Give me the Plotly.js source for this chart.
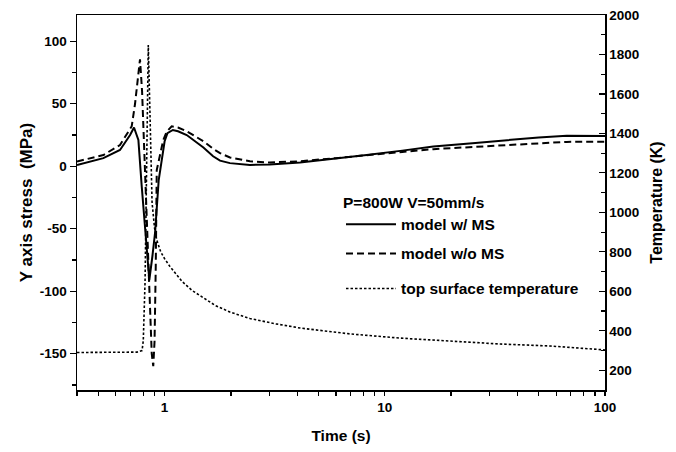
<!DOCTYPE html>
<html>
<head>
<meta charset="utf-8">
<script src="https://cdn.plot.ly/plotly-3.0.1.min.js"></script>
<style>html,body{margin:0;padding:0;background:#fff}#chart{width:676px;height:452px}</style>
</head>
<body>
<div id="chart"></div>
<script>
// model w/ MS (left axis, MPa)
const timeMS = [0.4, 0.45, 0.527, 0.627, 0.697, 0.726, 0.76, 0.787, 0.82, 0.852, 0.88, 0.905, 0.94, 1.0, 1.03, 1.09, 1.15, 1.26, 1.5, 1.66, 1.785, 1.98, 2.44, 3, 4.12, 6, 8.27, 12, 16.6, 25, 33.4, 50, 67, 100];
const stressMS = [1, 3.5, 6.5, 13, 25, 31, 21, -16, -56, -91, -72, -53, -11, 20, 26.5, 29, 28, 25, 15, 8, 4.5, 2.5, 1.1, 1.5, 3, 6, 9, 12.5, 15.8, 18.5, 20.5, 23, 24.5, 24.3];
// model w/o MS (left axis, MPa)
const timeNoMS = [0.4, 0.45, 0.527, 0.627, 0.709, 0.734, 0.76, 0.773, 0.79, 0.815, 0.84, 0.874, 0.888, 0.9, 0.911, 0.921, 0.986, 1.022, 1.077, 1.15, 1.26, 1.5, 1.66, 1.785, 1.98, 2.44, 3, 4.12, 6, 8.27, 12, 16.6, 25, 33.4, 50, 67, 100];
const stressNoMS = [3.8, 6, 9, 17, 32, 50, 77, 85.6, 60, -3, -75, -150, -160, -140, -83, -3, 21, 27.7, 32, 31, 28, 20, 14, 10.5, 7, 4, 3, 4, 6.5, 9, 11.5, 13.7, 15.5, 17, 18.5, 19.5, 19.7];
// top surface temperature (right axis, K)
const timeTemp = [0.4, 0.6, 0.75, 0.79, 0.8, 0.815, 0.83, 0.843, 0.858, 0.877, 0.9, 0.921, 0.96, 1.0, 1.058, 1.12, 1.2, 1.33, 1.5, 1.7, 1.98, 2.44, 3.2, 4.12, 6.97, 11.7, 19.8, 33.4, 56.3, 100];
const tempK = [290, 290, 292, 300, 350, 650, 1300, 1848, 1500, 1050, 920, 860, 800, 765, 725, 690, 650, 605, 565, 528, 495, 462, 435, 414, 384, 363, 348, 333, 323, 303];

const xTickVals = [0.4,0.5,0.6,0.7,0.8,0.9,1,2,3,4,5,6,7,8,9,10,20,30,40,50,60,70,80,90,100];
const xTickText = xTickVals.map(v => (v===1||v===10||v===100) ? String(v) : '');
const yTickVals = [-150, -100, -50, 0, 50, 100];
const yTickText = ['-150', '-100', '-50', '0', '50', '100'];

const FONT = 'Liberation Sans, Arial, Helvetica, sans-serif';

const traces = [
  {x: timeMS, y: stressMS, type: 'scatter', mode: 'lines', name: 'model w/ MS',
   line: {color: '#000', width: 2}, legend: 'legend', legendgroup: 'a'},
  {x: timeNoMS, y: stressNoMS, type: 'scatter', mode: 'lines', name: 'model w/o MS',
   line: {color: '#000', width: 2, dash: '7px,4px'}, legend: 'legend', legendgroup: 'b'},
  {x: timeTemp, y: tempK, type: 'scatter', mode: 'lines', name: 'top surface temperature',
   yaxis: 'y2', line: {color: '#000', width: 1.6, dash: '2.5px,2px'}, legend: 'legend2'}
];

const layout = {
  width: 676, height: 452,
  margin: {l: 77, r: 71, t: 15, b: 62},
  paper_bgcolor: '#fff', plot_bgcolor: '#fff',
  font: {family: FONT, color: '#000', size: 13, weight: 'bold'},
  showlegend: true,
  xaxis: {
    type: 'log', range: [Math.log10(0.4), 2],
    tickmode: 'array', tickvals: xTickVals, ticktext: xTickText,
    ticks: 'outside', ticklen: 4, tickwidth: 1.2, tickcolor: '#000',
    showline: true, linecolor: '#000', linewidth: 1.5, mirror: true,
    showgrid: false, zeroline: false,
    tickfont: {size: 13.5, weight: 'bold'},
    title: {text: 'Time (s)', font: {size: 15.5, weight: 'bold'}, standoff: 16}
  },
  yaxis: {
    range: [-179, 121], tickmode: 'array', tickvals: yTickVals, ticktext: yTickText,
    ticks: 'outside', ticklen: 6, tickwidth: 1.2, tickcolor: '#000',
    minor: {tickmode: 'linear', tick0: 0, dtick: 25, ticks: 'outside', ticklen: 4, tickcolor: '#000'},
    showline: true, linecolor: '#000', linewidth: 1.5,
    showgrid: false, zeroline: false,
    tickfont: {size: 13.5, weight: 'bold'},
    title: {text: 'Y axis stress\u00a0\u00a0(MPa)', font: {size: 17, weight: 'bold'}, standoff: 3}
  },
  yaxis2: {
    overlaying: 'y', side: 'right', range: [100, 2000], tick0: 0, dtick: 200,
    ticks: 'inside', ticklen: 6, tickwidth: 1.2, tickcolor: '#000',
    minor: {dtick: 100, ticks: 'inside', ticklen: 4, tickcolor: '#000'},
    showline: true, linecolor: '#000', linewidth: 1.5,
    showgrid: false, zeroline: false,
    tickfont: {size: 13.5, weight: 'bold'},
    title: {text: 'Temperature (K)', font: {size: 16, weight: 'bold'}, standoff: 12}
  },
  legend: {
    x: 0.5, y: 0.54, xanchor: 'left', yanchor: 'top',
    bgcolor: 'rgba(0,0,0,0)', borderwidth: 0, itemwidth: 50,
    font: {size: 15.5, weight: 'bold'},
    title: {text: 'P=800W V=50mm/s', font: {size: 15.5, weight: 'bold'}},
    traceorder: 'grouped', tracegroupgap: 6
  },
  legend2: {
    x: 0.5, y: 0.315, xanchor: 'left', yanchor: 'top',
    bgcolor: 'rgba(0,0,0,0)', borderwidth: 0, itemwidth: 50,
    font: {size: 15.5, weight: 'bold'}
  }
};

Plotly.newPlot('chart', traces, layout, {displayModeBar: false, staticPlot: true});
</script>
</body>
</html>
